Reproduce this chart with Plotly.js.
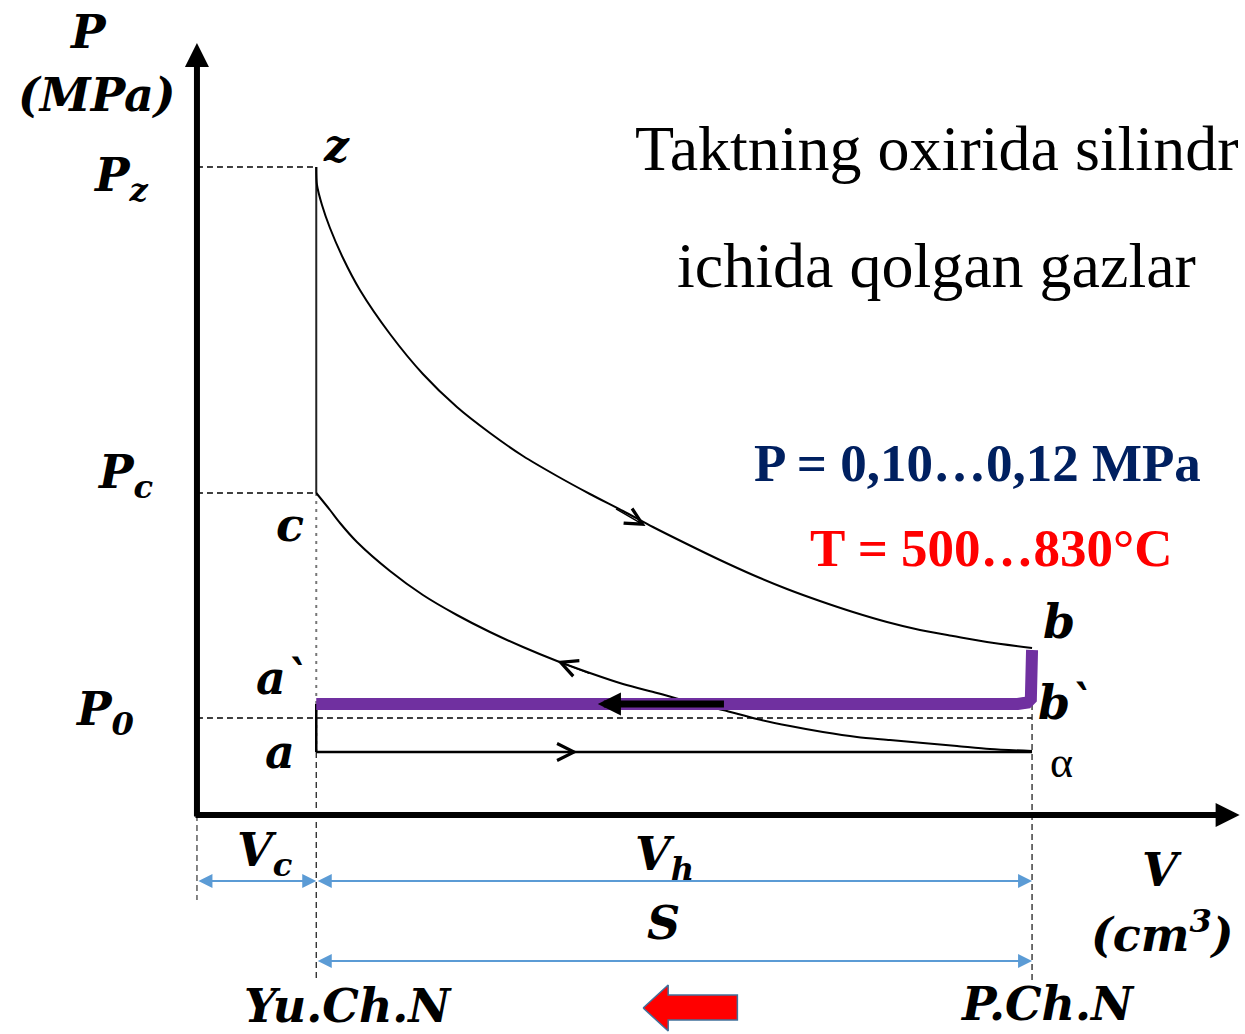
<!DOCTYPE html>
<html><head><meta charset="utf-8">
<script src="https://cdn.plot.ly/plotly-3.0.1.min.js"></script>
<style>html,body{margin:0;padding:0;background:#fff;overflow:hidden}</style>
</head><body><div id="chart" style="width:1245px;height:1034px"></div>
<script>
// ---- Characteristic volumes (in units of Vc) ----
const V0 = 0.0;          // origin
const Vc = 1.0;          // combustion chamber volume (TDC, Yu.Ch.N)
const Va = 7.0;          // full cylinder volume (BDC, P.Ch.N)

// ---- Characteristic pressures (relative units) ----
const Pz = 6.48;         // peak pressure, point z
const Pc = 3.22;         // end of compression, point c
const P0 = 0.97;         // ambient pressure
const Pa = 0.63;         // intake line, point a
const Pb = 1.67;         // end of expansion, point b
const Pr = 1.11;         // exhaust line (residual gases), point b`

// ---- Expansion curve z -> b ----
const expV = [1.000, 1.006, 1.048, 1.115, 1.224, 1.366, 1.618, 1.894, 2.179, 2.456, 2.733, 3.018, 3.294, 3.571, 3.822, 4.107, 4.384, 4.661, 4.946, 5.222, 5.499, 5.784, 6.061, 6.337, 6.622, 7.000];
const expP = [6.48, 6.30, 6.10, 5.87, 5.57, 5.25, 4.81, 4.41, 4.08, 3.82, 3.59, 3.39, 3.21, 3.04, 2.88, 2.71, 2.55, 2.40, 2.26, 2.14, 2.03, 1.93, 1.85, 1.79, 1.73, 1.67];

// ---- Compression curve c -> a (listed from c) ----
const compV = [1.000, 1.115, 1.199, 1.341, 1.618, 1.894, 2.179, 2.456, 2.733, 3.018, 3.294, 3.571, 3.856, 4.132, 4.409, 4.694, 4.971, 5.247, 5.532, 5.809, 6.086, 6.371, 6.647, 7.000];
const compP = [3.22, 3.05, 2.92, 2.73, 2.44, 2.20, 2.00, 1.83, 1.68, 1.54, 1.42, 1.31, 1.22, 1.13, 1.05, 0.96, 0.89, 0.83, 0.78, 0.75, 0.72, 0.69, 0.66, 0.64];

// ---- Exhaust stroke (purple): b -> b` -> a` ----
const exhV = [7.00, 7.00, 6.99, 6.96, 6.88, 1.00];
const exhP = [1.65, 1.22, 1.16, 1.125, 1.11, 1.11];

// ---- Red direction arrow (block shape) ----
const redArrowV = [3.74, 3.95, 3.95, 4.53, 4.53, 3.95, 3.95, 3.74];
const redArrowP = [-1.93, -1.70, -1.80, -1.80, -2.05, -2.05, -2.16, -1.93];

// ---- Dimension line levels ----
const dimVhP = -0.66, dimSP = -1.46;

// ---- Texts ----
const titleLines = ["Taktning oxirida silindr", "ichida qolgan gazlar"];
const pText = "P = 0,10…0,12 MPa";
const tText = "T = 500…830°C";

const black = '#000000';
const dashed = {color: black, width: 1.3, dash: '6px,4px'};
const traces = [];
function line(x, y, l, extra) { traces.push(Object.assign({type:'scatter', mode:'lines', x:x, y:y, line:l, hoverinfo:'skip'}, extra||{})); }

// guide lines
line([V0, Vc], [Pz, Pz], dashed);
line([V0, Vc], [Pc, Pc], dashed);
line([V0, Va], [P0, P0], dashed);
line([Vc, Vc], [Pc, Pa], {color:'#777', width:2, dash:'3px,5px'});
line([Vc, Vc], [Pa, -1.67], {color:'#222', width:1.3, dash:'6px,4px'});
line([Va, Va], [Pr, -1.65], {color:'#222', width:1.3, dash:'6px,4px'});
line([V0, V0], [0, -0.85], {color:'#444', width:1.3, dash:'6px,4px'});

// cycle
line([Vc, Vc], [Pc, Pz], {color:'#222', width:2});
line(expV, expP, {color:black, width:2, shape:'spline', smoothing:0.8});
line(compV, compP, {color:black, width:2, shape:'spline', smoothing:0.8});
line([Vc, Va], [Pa, Pa], {color:black, width:2.5});
line([Vc, Vc], [Pa, Pr], {color:black, width:2.5});
line(exhV, exhP, {color:'#7030A0', width:12});

// red arrow
traces.push({type:'scatter', mode:'lines', x:redArrowV, y:redArrowP, fill:'toself', fillcolor:'#FF0000', line:{color:'#41719C', width:1.5}, hoverinfo:'skip'});

const ann = [];
function arrow(x, y, ax, ay, o) {
  ann.push(Object.assign({x:x, y:y, ax:ax, ay:ay, xref:'x', yref:'y', axref:'x', ayref:'y', text:'', showarrow:true}, o));
}
// axes
arrow(V0, 7.72, V0, -0.03, {arrowhead:2, arrowwidth:6, arrowsize:0.8, arrowcolor:black});
arrow(8.74, 0, -0.025, 0, {arrowhead:2, arrowwidth:6, arrowsize:0.8, arrowcolor:black});
// blue dimension arrows
const blue = '#5B9BD5';
const dimOpts = {arrowhead:2, arrowwidth:2, arrowsize:1.4, startarrowhead:2, startarrowsize:1.4, arrowside:'end+start', arrowcolor:blue};
arrow(Vc, dimVhP, V0, dimVhP, dimOpts);
arrow(Va, dimVhP, Vc, dimVhP, dimOpts);
arrow(Va, dimSP, Vc, dimSP, dimOpts);
// direction marks on cycle
arrow(3.36, Pr, 4.43, Pr, {arrowhead:2, arrowwidth:7, arrowsize:0.66, arrowcolor:black});
arrow(3.76, 2.89, 3.50, 3.07, {arrowhead:5, arrowwidth:1.5, arrowsize:2.2, arrowcolor:black});
arrow(3.02, 1.54, 3.30, 1.41, {arrowhead:5, arrowwidth:1.5, arrowsize:2.2, arrowcolor:black});
arrow(3.19, Pa, 2.90, Pa, {arrowhead:5, arrowwidth:1.5, arrowsize:2.2, arrowcolor:black});

// text labels
const mathFont = {family:'DejaVu Serif', size:46, color:black, weight:'bold', style:'italic'};
function label(x, y, t, f) {
  ann.push({x:x, y:y, xref:'x', yref:'y', text:t, showarrow:false, xanchor:'center', yanchor:'middle', font:Object.assign({}, mathFont, f||{})});
}
label(-0.914, 7.83, 'P');
label(-0.838, 7.20, '(MPa)');
label(-0.64, 6.37, 'P<sub>z</sub>');
label(-0.60, 3.40, 'P<sub>c</sub>');
label(-0.77, 1.03, 'P<sub>0</sub>');
label(1.17, 6.70, 'z', {size:44});
label(0.78, 2.90, 'c');
label(0.72, 1.37, 'a`');
label(0.70, 0.63, 'a');
label(7.23, 1.93, 'b');
label(7.28, 1.12, 'b`');
label(7.25, 0.53, 'α', {family:'Liberation Serif', size:44, weight:'normal', style:'normal'});
label(0.57, -0.38, 'V<sub>c</sub>');
label(3.92, -0.42, 'V<sub>h</sub>');
label(3.91, -1.08, 'S');
label(8.09, -0.55, 'V');
label(8.09, -1.17, '(cm<sup>3</sup>)');
label(1.27, -1.91, 'Yu.Ch.N', {size:46});
label(7.13, -1.89, 'P.Ch.N', {size:46});
label(6.20, 6.67, titleLines[0], {family:'Liberation Serif', size:64, weight:'normal', style:'normal'});
label(6.20, 5.50, titleLines[1], {family:'Liberation Serif', size:64, weight:'normal', style:'normal'});
label(6.54, 3.52, pText, {family:'Liberation Serif', size:53, weight:'bold', style:'normal', color:'#002060'});
label(6.66, 2.67, tText, {family:'Liberation Serif', size:53, weight:'bold', style:'normal', color:'#FF0000'});

const layout = {
  width:1245, height:1034, margin:{l:0, r:0, t:0, b:0},
  paper_bgcolor:'#fff', plot_bgcolor:'#fff', showlegend:false,
  xaxis:{range:[-1.651, 8.785], visible:false, fixedrange:true},
  yaxis:{range:[-2.19, 8.15], visible:false, fixedrange:true},
  annotations:ann
};
Plotly.newPlot('chart', traces, layout, {staticPlot:true, displayModeBar:false});
</script></body></html>
